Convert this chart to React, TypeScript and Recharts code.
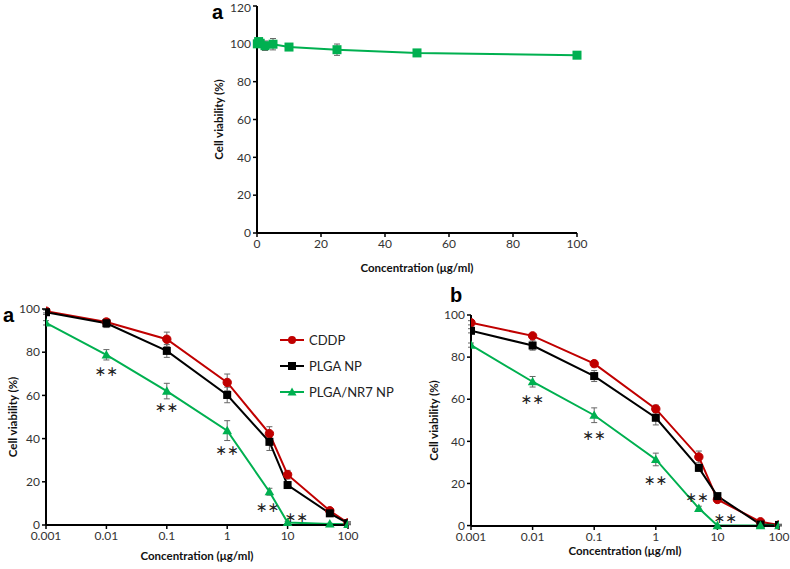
import React from 'react';
import { LineChart, Line, XAxis, YAxis, ErrorBar, Scatter } from 'recharts';

// top panel: PLGA/NR7 NP alone, linear scale
const topConc = [0.1, 0.5, 1, 2.5, 5, 10, 25, 50, 100];
const topViability = [100, 101.2, 100.3, 99, 99.8, 98.3, 96.9, 95.2, 94];
const topErr = [1, 1.5, 1, 2.5, 3, 0.8, 3, 1.5, 1.2];
const topXTicks = [0, 20, 40, 60, 80, 100];
const topYTicks = [0, 20, 40, 60, 80, 100, 120];

// bottom panels: log concentration
const conc = [0.001, 0.01, 0.1, 1, 5, 10, 50, 100];
const logTicks = [0.001, 0.01, 0.1, 1, 10, 100];
const yTicks = [0, 20, 40, 60, 80, 100];

const cddpA = [99, 94, 86, 66, 42.3, 23.3, 6.6, 1];
const cddpAErr = [0.8, 1.5, 3.3, 3.9, 3.2, 2, 0.8, 0.5];
const plgaA = [98.5, 93.4, 80.6, 60.2, 38.5, 18.5, 5.4, 0.8];
const plgaAErr = [1, 2, 3, 3.6, 4, 1.2, 0.8, 0.5];
const nr7A = [93.6, 78.8, 62, 43.7, 15.4, 1.2, 0.5, 0.3];
const nr7AErr = [1, 2.4, 3.6, 4.6, 1.6, 0.5, 0.3, 0.2];

const cddpB = [96.3, 90.1, 76.9, 55.4, 32.6, 12.4, 1.8, 0.3];
const cddpBErr = [1, 1.2, 1.5, 1.8, 2.8, 1, 0.5, 0.3];
const plgaB = [92.5, 85.5, 71, 51.2, 27.4, 14, 0.5, 0.3];
const plgaBErr = [1, 2.2, 2.6, 3.4, 1.5, 1, 0.4, 0.3];
const nr7B = [85.7, 68.3, 52.4, 31.4, 8.2, 0, 0, 0];
const nr7BErr = [1, 2.5, 3.5, 3, 1, 0.2, 0.2, 0.2];

// ** significance marks (concentration, viability where the text sits)
const sigA = [
  { x: 0.01, y: 71.5 },
  { x: 0.1, y: 54.5 },
  { x: 1, y: 34.5 },
  { x: 4.7, y: 8.3 },
  { x: 14, y: 3.8 },
];
const sigB = [
  { x: 0.01, y: 60 },
  { x: 0.1, y: 43 },
  { x: 1, y: 21.5 },
  { x: 4.7, y: 13.6 },
  { x: 13.5, y: 3.7 },
];

const seriesNames = ['CDDP', 'PLGA NP', 'PLGA/NR7 NP'];
const seriesColors = ['#C00000', '#000000', '#00B050'];

const FONT = 'Lato, "Open Sans", sans-serif';

const build = (xs: number[], ys: number[], es: number[]) =>
  xs.map((x, i) => ({ x, y: ys[i], err: es[i] }));

const circleDot = (color: string) => (p: any) => {
  if (p.cx == null || p.cy == null) return <g key={p.key} />;
  return <circle key={p.key} cx={p.cx} cy={p.cy} r={4.2} fill={color} stroke={color} />;
};
const squareDot = (color: string, s: number) => (p: any) => {
  if (p.cx == null || p.cy == null) return <g key={p.key} />;
  return <rect key={p.key} x={p.cx - s / 2} y={p.cy - s / 2} width={s} height={s} fill={color} />;
};
const triangleDot = (color: string) => (p: any) => {
  if (p.cx == null || p.cy == null) return <g key={p.key} />;
  const s = 4.8;
  return (
    <polygon
      key={p.key}
      points={`${p.cx},${p.cy - s} ${p.cx - s},${p.cy + s * 0.75} ${p.cx + s},${p.cy + s * 0.75}`}
      fill={color}
    />
  );
};

const starShape = (p: any) => (
  <text
    x={p.cx}
    y={p.cy}
    textAnchor="middle"
    dominantBaseline="central"
    fontSize={14}
    fontFamily="DejaVu Sans, sans-serif"
    fill="#222"
  >
    {'∗∗'}
  </text>
);

const YLabel = ({ viewBox, dx }: any) => {
  const cx = viewBox.x + dx;
  const cy = viewBox.y + viewBox.height / 2;
  return (
    <text
      x={cx}
      y={cy}
      transform={`rotate(-90, ${cx}, ${cy})`}
      textAnchor="middle"
      dominantBaseline="central"
      fontSize={11.5}
      fontWeight={700}
      fontFamily={FONT}
      fill="#111"
    >
      Cell viability (%)
    </text>
  );
};

const XLabel = ({ viewBox, dy }: any) => (
  <text
    x={viewBox.x + viewBox.width / 2}
    y={viewBox.y + dy}
    textAnchor="middle"
    dominantBaseline="central"
    fontSize={11.5}
    fontWeight={700}
    fontFamily={FONT}
    fill="#111"
  >
    Concentration (μg/ml)
  </text>
);

const tickStyle = { fontSize: 12, fill: '#333', fontFamily: FONT };
const axisLine = { stroke: '#000', strokeWidth: 2 };
const tickLine = { stroke: '#000', strokeWidth: 1.5 };

const fmtLog = (v: number) => String(v);

const PanelLetter = ({ text, left, top }: { text: string; left: number; top: number }) => (
  <div
    style={{
      position: 'absolute',
      left,
      top,
      fontFamily: 'Liberation Sans, Arial, sans-serif',
      fontWeight: 700,
      fontSize: 20,
      lineHeight: '20px',
    }}
  >
    {text}
  </div>
);

const LogPanel = ({
  cddp,
  plga,
  nr7,
  sig,
  margin,
  width,
  height,
  yLabelDx,
  xLabelDy,
}: any) => (
  <LineChart width={width} height={height} margin={margin}>
    <XAxis
      dataKey="x"
      type="number"
      scale="log"
      domain={[0.001, 100]}
      ticks={logTicks}
      tickFormatter={fmtLog}
      allowDataOverflow
      axisLine={axisLine}
      tickLine={tickLine}
      tickSize={4}
      tick={tickStyle}
      height={40}
      label={<XLabel dy={xLabelDy} />}
    />
    <YAxis
      dataKey="y"
      type="number"
      domain={[0, 100]}
      ticks={yTicks}
      axisLine={axisLine}
      tickLine={tickLine}
      tickSize={4}
      tick={tickStyle}
      width={30}
      label={<YLabel dx={yLabelDx} />}
    />
    <Line
      data={cddp}
      dataKey="y"
      stroke={seriesColors[0]}
      strokeWidth={2}
      dot={circleDot(seriesColors[0])}
      isAnimationActive={false}
    >
      <ErrorBar dataKey="err" direction="y" width={3} stroke="#666" strokeWidth={1} />
    </Line>
    <Line
      data={plga}
      dataKey="y"
      stroke={seriesColors[1]}
      strokeWidth={2}
      dot={squareDot(seriesColors[1], 8)}
      isAnimationActive={false}
    >
      <ErrorBar dataKey="err" direction="y" width={3} stroke="#666" strokeWidth={1} />
    </Line>
    <Line
      data={nr7}
      dataKey="y"
      stroke={seriesColors[2]}
      strokeWidth={2}
      dot={triangleDot(seriesColors[2])}
      isAnimationActive={false}
    >
      <ErrorBar dataKey="err" direction="y" width={3} stroke="#666" strokeWidth={1} />
    </Line>
    <Scatter data={sig} dataKey="y" shape={starShape} isAnimationActive={false} />
  </LineChart>
);

const Legend3 = ({ left, top }: { left: number; top: number }) => (
  <div style={{ position: 'absolute', left, top, fontFamily: FONT, fontSize: 13, color: '#222' }}>
    {seriesNames.map((name, i) => (
      <div key={name} style={{ display: 'flex', alignItems: 'center', height: 26 }}>
        <svg width={26} height={14} style={{ marginRight: 3 }}>
          <line x1={0} y1={7} x2={24} y2={7} stroke={seriesColors[i]} strokeWidth={2} />
          {i === 0 && <circle cx={12} cy={7} r={4} fill={seriesColors[i]} />}
          {i === 1 && <rect x={8} y={3} width={8} height={8} fill={seriesColors[i]} />}
          {i === 2 && <polygon points="12,2.5 7.5,10.5 16.5,10.5" fill={seriesColors[i]} />}
        </svg>
        <span>{name}</span>
      </div>
    ))}
  </div>
);

export default function App() {
  const topData = build(topConc, topViability, topErr);
  return (
    <div
      style={{
        position: 'absolute',
        left: 0,
        top: 0,
        width: 790,
        height: 569,
        background: '#fff',
        overflow: 'hidden',
      }}
    >
      <div style={{ position: 'absolute', left: 180, top: 0 }}>
        <LineChart width={420} height={290} margin={{ top: 6, right: 23, left: 32, bottom: 17 }}>
          <XAxis
            dataKey="x"
            type="number"
            domain={[0, 100]}
            ticks={topXTicks}
            axisLine={axisLine}
            tickLine={tickLine}
            tickSize={4}
            tick={tickStyle}
            height={40}
            label={<XLabel dy={34} />}
          />
          <YAxis
            dataKey="y"
            type="number"
            domain={[0, 120]}
            ticks={topYTicks}
            axisLine={axisLine}
            tickLine={tickLine}
            tickSize={4}
            tick={tickStyle}
            width={45}
            label={<YLabel dx={6} />}
          />
          <Line
            data={topData}
            dataKey="y"
            stroke="#00B050"
            strokeWidth={2}
            dot={squareDot('#00B050', 9)}
            isAnimationActive={false}
          >
            <ErrorBar dataKey="err" direction="y" width={3} stroke="#666" strokeWidth={1} />
          </Line>
        </LineChart>
      </div>
      <PanelLetter text="a" left={212} top={2} />

      <div style={{ position: 'absolute', left: 0, top: 300 }}>
        <LogPanel
          cddp={build(conc, cddpA, cddpAErr)}
          plga={build(conc, plgaA, plgaAErr)}
          nr7={build(conc, nr7A, nr7AErr)}
          sig={sigA}
          width={400}
          height={269}
          margin={{ top: 9, right: 52, left: 16, bottom: 4 }}
          yLabelDx={-4}
          xLabelDy={30}
        />
      </div>
      <PanelLetter text="a" left={3} top={305} />
      <Legend3 left={280} top={327} />

      <div style={{ position: 'absolute', left: 400, top: 300 }}>
        <LogPanel
          cddp={build(conc, cddpB, cddpBErr)}
          plga={build(conc, plgaB, plgaBErr)}
          nr7={build(conc, nr7B, nr7BErr)}
          sig={sigB}
          width={390}
          height={269}
          margin={{ top: 15, right: 11, left: 41, bottom: 3 }}
          yLabelDx={-8}
          xLabelDy={24}
        />
      </div>
      <PanelLetter text="b" left={450} top={285} />
    </div>
  );
}
